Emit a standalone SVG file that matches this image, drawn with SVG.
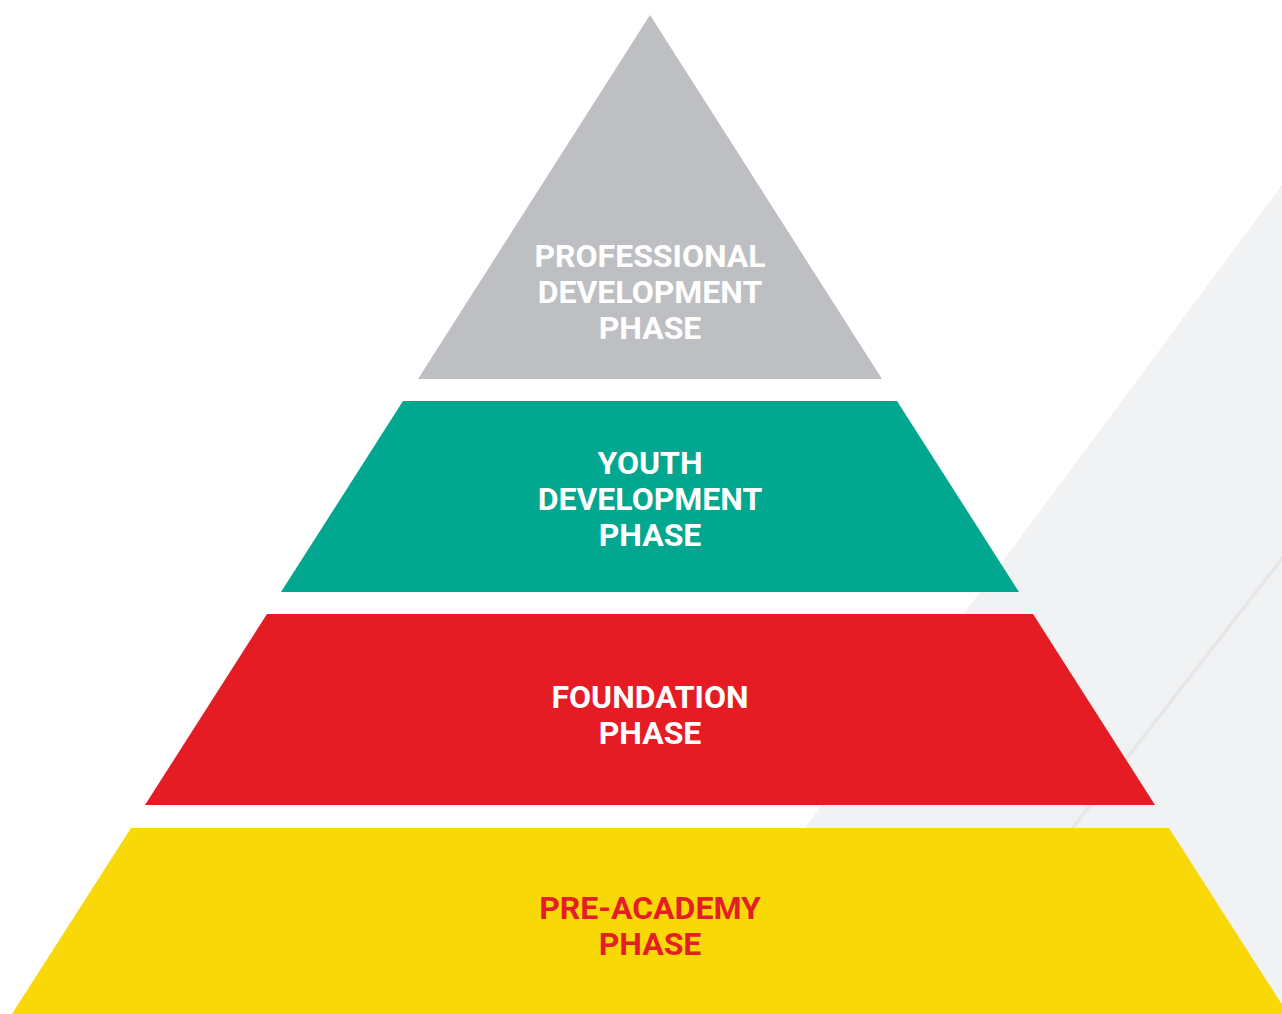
<svg xmlns="http://www.w3.org/2000/svg" width="1282" height="1014" viewBox="0 0 1282 1014">
  <style>
    .lbl { font-family: Roboto, "Liberation Sans", Arial, sans-serif; font-weight: 700; font-size: 32px; text-anchor: middle; }
    .w { fill: #FFFFFF; }
    .r { fill: #E31E24; }
  </style>
  <!-- page background -->
  <rect x="0" y="0" width="1282" height="1014" fill="#FFFFFF"/>
  <!-- light backdrop wedge and its faint stripe -->
  <polygon points="1282,185 1282,1014 667,1014" fill="#F1F2F4"/>
  <line x1="1284" y1="556" x2="1071" y2="830" stroke="#E5E6E7" stroke-width="3.5"/>

  <g id="professional">
    <polygon points="650,15 882,379 418,379" fill="#BEBFC2"/>
    <text class="lbl w" x="650" y="267">PROFESSIONAL</text>
    <text class="lbl w" x="650" y="303">DEVELOPMENT</text>
    <text class="lbl w" x="650" y="339">PHASE</text>
  </g>

  <g id="youth">
    <polygon points="403,401 897,401 1019,592 281,592" fill="#02A78F"/>
    <text class="lbl w" x="650" y="474">YOUTH</text>
    <text class="lbl w" x="650" y="510">DEVELOPMENT</text>
    <text class="lbl w" x="650" y="546">PHASE</text>
  </g>

  <g id="foundation">
    <polygon points="267,614 1033,614 1155,805 145,805" fill="#E51C24"/>
    <text class="lbl w" x="650" y="708">FOUNDATION</text>
    <text class="lbl w" x="650" y="744">PHASE</text>
  </g>

  <g id="pre-academy">
    <polygon points="131,828 1169,828 1290,1017 10,1017" fill="#F8D807"/>
    <text class="lbl r" x="650" y="919">PRE-ACADEMY</text>
    <text class="lbl r" x="650" y="955">PHASE</text>
  </g>

  <g id="connectors"></g>
</svg>
